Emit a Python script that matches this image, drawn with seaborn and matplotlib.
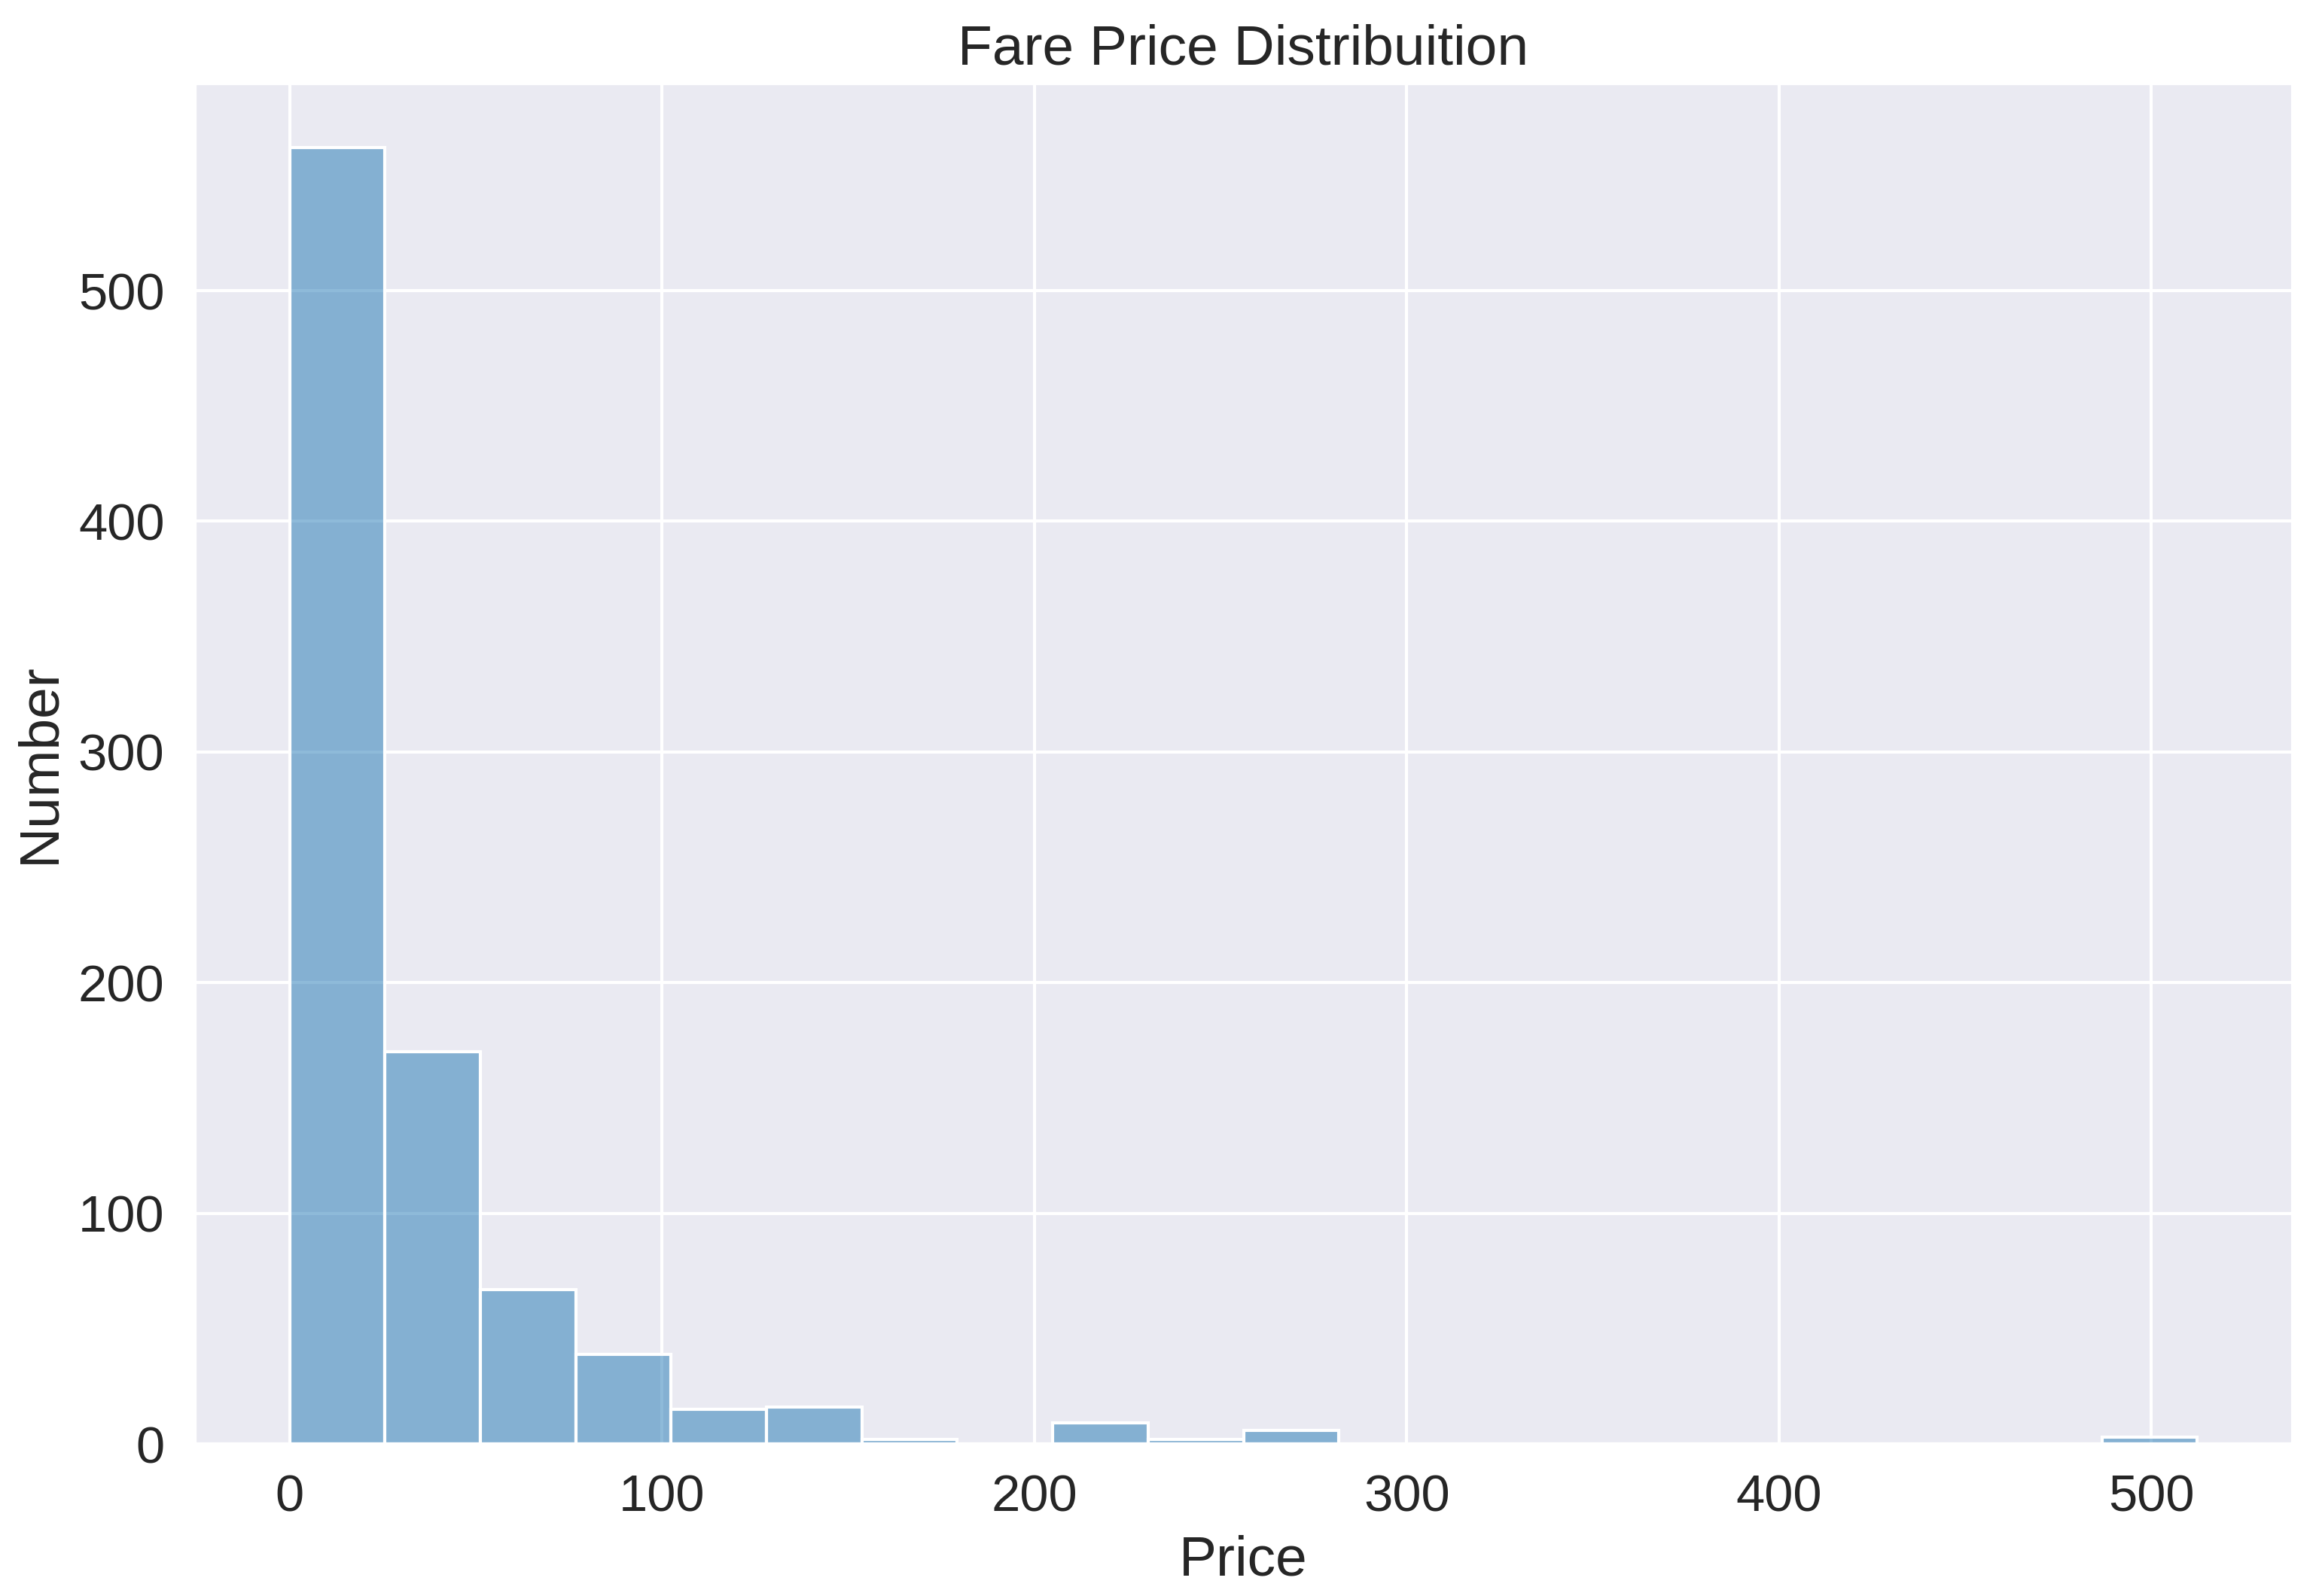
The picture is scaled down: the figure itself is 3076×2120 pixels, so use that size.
import numpy as np
import pandas as pd
import matplotlib
matplotlib.use("Agg")
import matplotlib.pyplot as plt
import seaborn as sns

# Histogram of fares: 20 equal bins from 0 to 512.3292
bin_min = 0.0
bin_max = 512.3292
n_bins = 20
counts = [562, 170, 67, 39, 15, 16, 2, 0, 9, 2, 6, 0, 0, 0, 0, 0, 0, 0, 0, 3]
title = "Fare Price Distribuition"
xlabel = "Price"
ylabel = "Number"

sns.set_theme(style="darkgrid", font_scale=1.5)
plt.rcParams['font.family'] = ['Liberation Sans', 'DejaVu Sans']

edges = np.linspace(bin_min, bin_max, n_bins + 1)
centers = (edges[:-1] + edges[1:]) / 2
df = pd.DataFrame({"Fare": centers, "count": counts})

fig = plt.figure(figsize=(3076 / 300, 2120 / 300), dpi=300)
left, right = 258 / 3076, 3045 / 3076
bottom, top = 1 - 1918 / 2120, 1 - 110 / 2120
ax = fig.add_axes([left, bottom, right - left, top - bottom])
sns.histplot(data=df, x="Fare", weights="count", bins=n_bins,
             binrange=(bin_min, bin_max), color="#1f77b4",
             alpha=0.5, edgecolor="white", linewidth=1.0, ax=ax)
ax.set_title(title)
ax.set_xlabel(xlabel)
ax.set_ylabel(ylabel)
fig.savefig("out.png", dpi=300)
